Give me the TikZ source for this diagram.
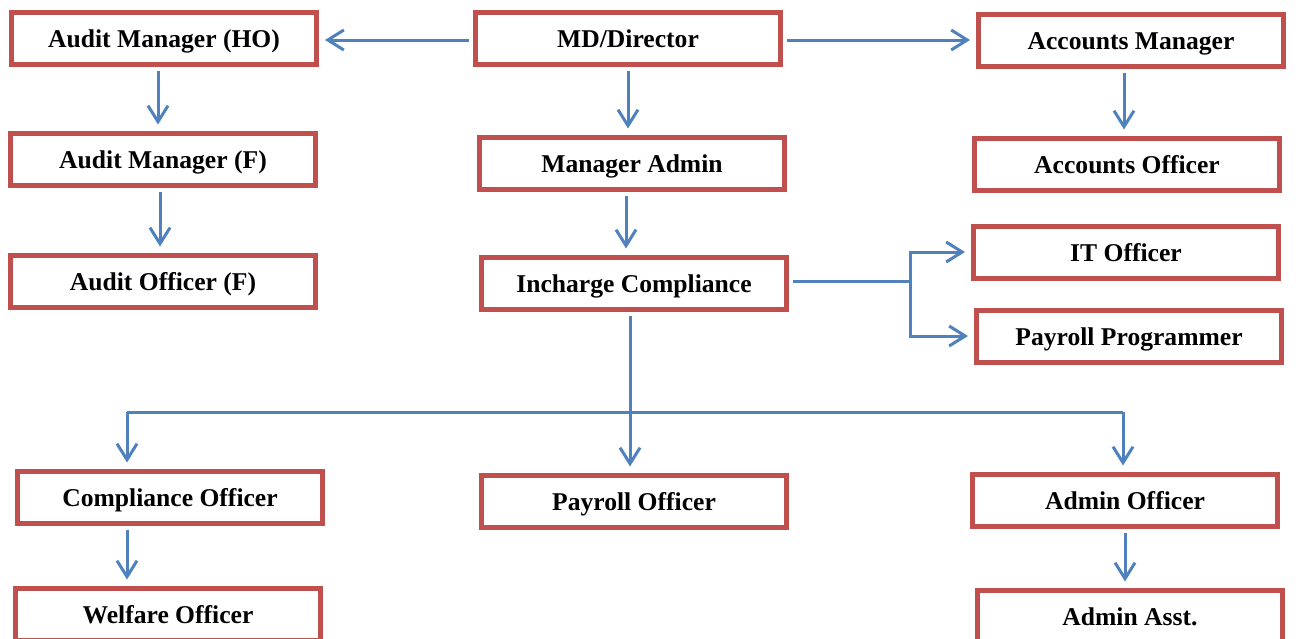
\documentclass[tikz,border=0pt]{standalone}
\usepackage{fontspec}
\setmainfont{Liberation Serif}
\usepackage{tikz}
\usetikzlibrary{arrows.meta}
\definecolor{boxred}{RGB}{192,80,77}
\definecolor{lineblue}{RGB}{79,129,189}
\tikzset{
  post/.style={draw=boxred, line width=2.5pt, fill=white, minimum width=152.5pt, minimum height=26pt, inner sep=0pt, text height=10.5pt, text depth=1.5pt, font=\fontsize{12.8}{15}\selectfont\bfseries},
  wire/.style={color=lineblue, line width=1.5pt},
  arr/.style={wire, -{Straight Barb[length=8pt,width=10pt]}, shorten >=3pt, shorten <=2pt}
}
\begin{document}
\begin{tikzpicture}[x=0.5pt, y=-0.5pt]
                        \useasboundingbox (0,0) rectangle (1299,638);

                        \node[post] (amho) at (164,38) {Audit Manager (HO)};
                        \node[post] (md) at (628,38) {MD/Director};
                        \node[post] (accm) at (1131,40) {Accounts Manager};
                        \node[post] (amf) at (163,159) {Audit Manager (F)};
                        \node[post] (madm) at (632,163) {Manager Admin};
                        \node[post] (acco) at (1127,164) {Accounts Officer};
                        \node[post] (aof) at (163,281) {Audit Officer (F)};
                        \node[post] (inch) at (634,283) {Incharge Compliance};
                        \node[post] (itof) at (1126,252) {IT Officer};
                        \node[post] (ppro) at (1129,336) {Payroll Programmer};
                        \node[post] (coof) at (170,497) {Compliance Officer};
                        \node[post] (pyof) at (634,501) {Payroll Officer};
                        \node[post] (adof) at (1125,500) {Admin Officer};
                        \node[post] (wfof) at (168,614) {Welfare Officer};
                        \node[post] (adas) at (1130,616) {Admin Asst.};

                        \coordinate (jr) at (910,281);
                        \coordinate (jb) at (630,412);
                        \coordinate (jl) at (127,412);
                        \coordinate (ja) at (1123,412);

                        \draw[arr] (md.west |- 0,40) -- (amho.east |- 0,40);
                        \draw[arr] (md.east |- accm) -- (accm.west);
                        \draw[arr] (md.south) -- (md.south |- madm.north);
                        \draw[arr] ([xshift=-3pt]amho.south) -- ([xshift=-3pt]amho.south |- amf.north);
                        \draw[arr] ([xshift=-1.5pt]amf.south) -- ([xshift=-1.5pt]amf.south |- aof.north);
                        \draw[arr] ([xshift=-3.5pt]accm.south) -- ([xshift=-3.5pt]accm.south |- acco.north);
                        \draw[arr] ([xshift=-3pt]madm.south) -- ([xshift=-3pt]madm.south |- inch.north);

                        \draw[wire, shorten <=2pt] (inch.east |- jr) -- (jr);
                        \draw[arr, shorten <=0pt] (jr) |- (itof.west);
                        \draw[arr, shorten <=0pt] (jr) |- (ppro.west);

                        \draw[wire, shorten <=2pt] (inch.south -| jb) -- (jb);
                        \draw[wire] (jl) -- (ja);
                        \draw[arr, shorten <=0pt] (jl) -- (jl |- coof.north);
                        \draw[arr, shorten <=0pt] (jb) -- (jb |- pyof.north);
                        \draw[arr, shorten <=0pt] (ja) -- (ja |- adof.north);
                        \draw[arr] (jl |- coof.south) -- (jl |- wfof.north);
                        \draw[arr] (adof.south) -- (adof.south |- adas.north);
                    \end{tikzpicture}
\end{document}
